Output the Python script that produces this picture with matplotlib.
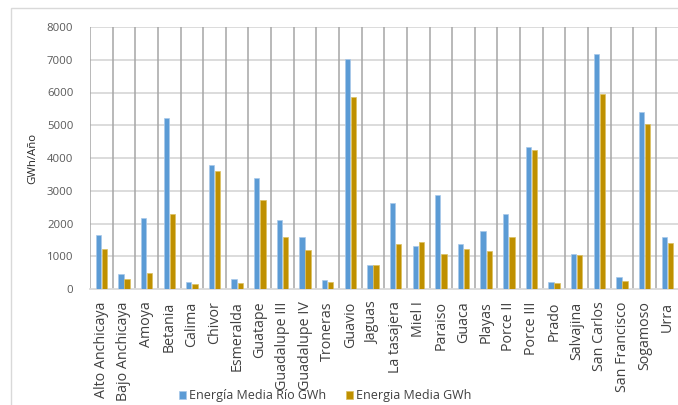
import matplotlib
matplotlib.use("Agg")
import matplotlib.pyplot as plt
from matplotlib.patches import Rectangle
import numpy as np

plt.rcParams['font.family'] = ['Open Sans', 'DejaVu Sans']

centrales = ["Alto Anchicaya", "Bajo Anchicaya", "Amoya", "Betania", "Calima",
             "Chivor", "Esmeralda", "Guatape", "Guadalupe III", "Guadalupe IV",
             "Troneras", "Guavio", "Jaguas", "La tasajera", "Miel I", "Paraiso",
             "Guaca", "Playas", "Porce II", "Porce III", "Prado", "Salvajina",
             "San Carlos", "San Francisco", "Sogamoso", "Urra"]

energia_rio = [1660, 450, 2180, 5230, 215, 3800, 320, 3390, 2100, 1580,
               265, 7020, 735, 2640, 1300, 2860, 1385, 1760, 2290, 4330,
               215, 1060, 7170, 360, 5390, 1600]

energia_media = [1230, 315, 500, 2280, 165, 3615, 195, 2710, 1600, 1190,
                 215, 5875, 745, 1385, 1445, 1060, 1230, 1150, 1580, 4235,
                 195, 1030, 5965, 255, 5030, 1395]

y_ticks = [0, 1000, 2000, 3000, 4000, 5000, 6000, 7000, 8000]

W, H = 678, 405
fig = plt.figure(figsize=(W / 100, H / 100), dpi=100)

# chart area frame
fig.patches.append(Rectangle((11 / W, -0.1), 1.2, 1 - 8 / H + 0.1,
                             transform=fig.transFigure, fill=False,
                             edgecolor="#d9d9d9", linewidth=1.0, zorder=0))

left, right, bottom, top = 90, 678.6, 289, 27
ax = fig.add_axes([left / W, 1 - bottom / H, (right - left) / W, (bottom - top) / H])

x = np.arange(len(centrales))
bw = 0.235
off = 0.135
ax.bar(x - off, energia_rio, width=bw, color="#5B9BD5", edgecolor="#a9c9ea",
       linewidth=0.5, label="Energía Media Río GWh", zorder=3)
ax.bar(x + off, energia_media, width=bw, color="#BF9000", edgecolor="#dcc060",
       linewidth=0.5, label="Energia Media GWh", zorder=3)

ax.set_xlim(-0.5, len(centrales) - 0.5)
ax.set_ylim(0, 8000)
ax.set_yticks(y_ticks)
ax.set_yticklabels([str(v) for v in y_ticks], fontsize=8.2, color="#595959")
ax.set_xticks(x)
ax.set_xticklabels(centrales, rotation=90, fontsize=10.3, color="#404040")
ax.tick_params(axis="y", length=0, pad=12)
ax.tick_params(axis="x", length=0, pad=9)

for v in y_ticks[1:]:
    ax.axhline(v, color="#d9d9d9", linewidth=1.3, zorder=1)
for b in np.arange(-0.5, len(centrales) + 0.5, 1.0):
    ax.axvline(b, color="#a6a6a6", linewidth=1.1, zorder=2)

for s in ["top", "right", "left"]:
    ax.spines[s].set_visible(False)
ax.spines["bottom"].set_color("#d9d9d9")
ax.spines["bottom"].set_linewidth(1.3)

fig.text(33 / W, 1 - 158 / H, "GWh/Año", rotation=90, fontsize=8.2,
         color="#262626", ha="center", va="center")

fig.legend(loc="center", bbox_to_anchor=(325 / W, 1 - 396 / H), ncol=2,
           frameon=False, fontsize=9.0, handlelength=0.6, handleheight=0.6,
           handletextpad=0.2, columnspacing=1.6, labelcolor="#404040")

fig.savefig("out.png", dpi=100)
